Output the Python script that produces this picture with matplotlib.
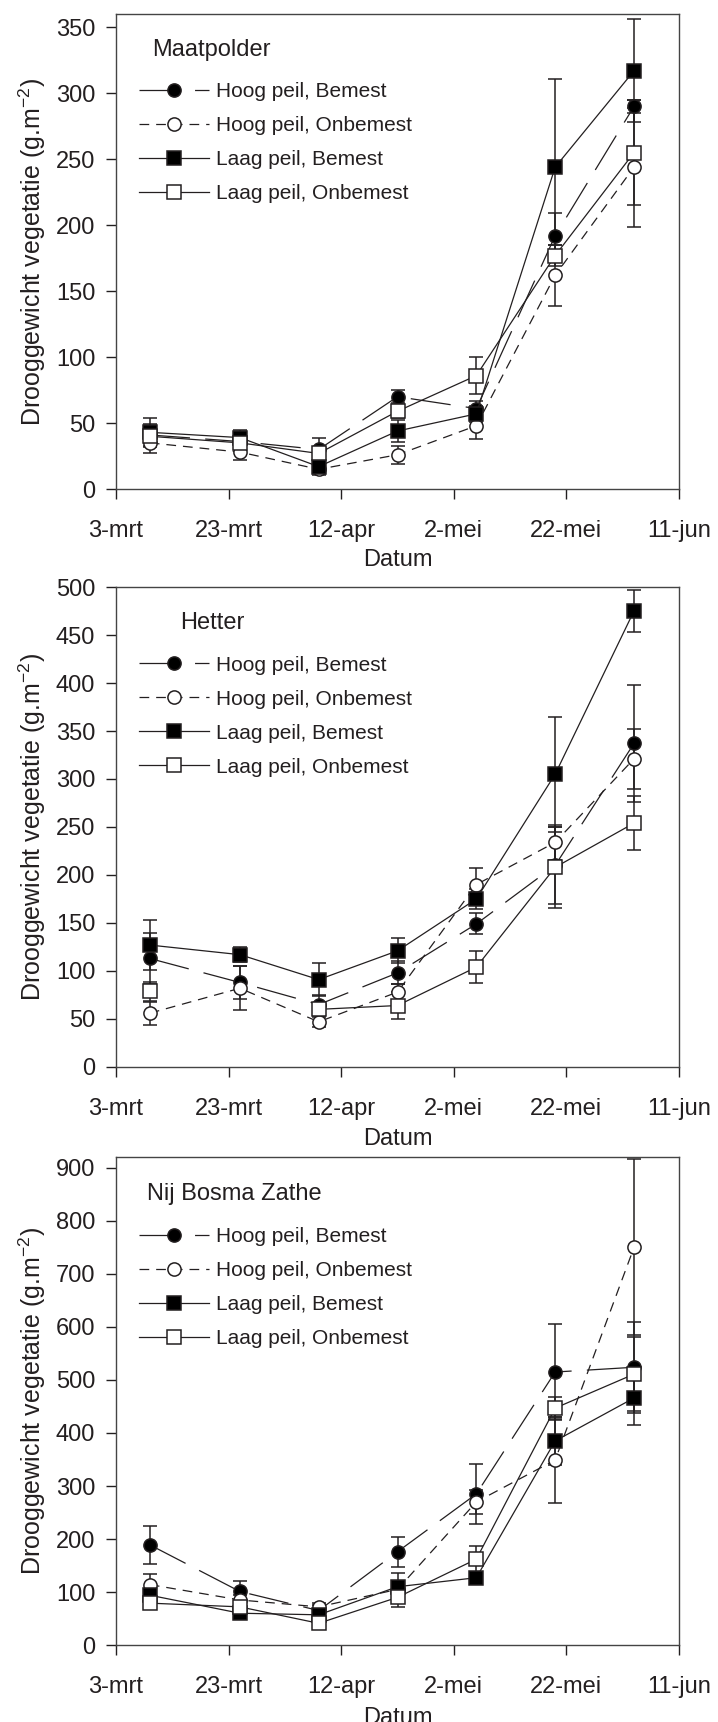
import numpy as np
import pandas as pd
import matplotlib
matplotlib.use('Agg')
import matplotlib.pyplot as plt

plt.rcParams['font.family'] = ['Liberation Sans', 'DejaVu Sans']
plt.rcParams['mathtext.default'] = 'regular'
plt.rcParams['lines.scale_dashes'] = False

# bemonsteringsdata (2010)
datums = pd.to_datetime(['2010-03-09', '2010-03-25', '2010-04-08', '2010-04-22',
                         '2010-05-06', '2010-05-20', '2010-06-03'])
tick_datums = pd.to_datetime(['2010-03-03', '2010-03-23', '2010-04-12', '2010-05-02',
                              '2010-05-22', '2010-06-11'])
tick_labels = ['3-mrt', '23-mrt', '12-apr', '2-mei', '22-mei', '11-jun']

reeksen = ['Hoog peil, Bemest', 'Hoog peil, Onbemest', 'Laag peil, Bemest', 'Laag peil, Onbemest']

# Maatpolder
maat_hb = [41, 36, 30, 70, 61, 192, 290]
maat_ho = [35, 28, 15, 26, 48, 162, 244]
maat_lb = [43, 39, 17, 44, 57, 244, 317]
maat_lo = [40, 35, 27, 59, 86, 177, 255]
maat_hb_err = [8, 4, 9, 5, 6, 17, 5]
maat_ho_err = [8, 6, 3, 7, 10, 23, 45]
maat_lb_err = [11, 6, 6, 8, 6, 67, 39]
maat_lo_err = [5, 4, 4, 5, 14, 8, 40]

# Hetter (laag peil onbemest op 25-mrt ontbreekt)
het_hb = [113, 88, 65, 98, 149, 210, 337]
het_ho = [56, 82, 47, 78, 190, 234, 321]
het_lb = [127, 117, 91, 121, 175, 305, 475]
het_lo = [79, np.nan, 60, 64, 104, 208, 254]
het_hb_err = [27, 17, 10, 12, 11, 40, 61]
het_ho_err = [12, 23, 5, 8, 17, 18, 31]
het_lb_err = [26, 8, 17, 13, 10, 60, 22]
het_lo_err = [10, np.nan, 6, 14, 17, 42, 28]

# Nij Bosma Zathe
nbz_hb = [189, 101, 65, 176, 285, 515, 524]
nbz_ho = [114, 85, 72, 105, 270, 349, 750]
nbz_lb = [94, 60, 57, 110, 127, 385, 466]
nbz_lo = [79, 72, 41, 90, 162, 447, 511]
nbz_hb_err = [36, 19, 10, 28, 57, 91, 86]
nbz_ho_err = [20, 10, 8, 10, 23, 82, 166]
nbz_lb_err = [10, 8, 8, 25, 8, 45, 51]
nbz_lo_err = [8, 8, 8, 18, 24, 20, 70]

panelen = [
    ('Maatpolder', 0.065, [maat_hb, maat_ho, maat_lb, maat_lo],
     [maat_hb_err, maat_ho_err, maat_lb_err, maat_lo_err], 360, 50),
    ('Hetter', 0.114, [het_hb, het_ho, het_lb, het_lo],
     [het_hb_err, het_ho_err, het_lb_err, het_lo_err], 500, 50),
    ('Nij Bosma Zathe', 0.055, [nbz_hb, nbz_ho, nbz_lb, nbz_lo],
     [nbz_hb_err, nbz_ho_err, nbz_lb_err, nbz_lo_err], 920, 100),
]

stijlen = [
    dict(marker='o', mfc='black', dashes=(29, 11)),
    dict(marker='o', mfc='white', dashes=(7, 5)),
    dict(marker='s', mfc='black', dashes=()),
    dict(marker='s', mfc='white', dashes=()),
]

ink = '#231f20'
axes_pos = [
    [0.1616, 0.7160, 0.7841, 0.2758],
    [0.1616, 0.3804, 0.7841, 0.2787],
    [0.1616, 0.0447, 0.7841, 0.2832],
]

fig = plt.figure(figsize=(7.18, 17.22), dpi=100)

for pos, (naam, tx, waarden, fouten, ymax, stap) in zip(axes_pos, panelen):
    ax = fig.add_axes(pos)
    for vals, errs in zip(waarden, fouten):
        ax.errorbar(datums, vals, yerr=errs, fmt='none', ecolor=ink,
                    elinewidth=1.1, capsize=5, capthick=1.1, zorder=2)
    for vals, st, lab in zip(waarden, stijlen, reeksen):
        ls = '-' if not st['dashes'] else '--'
        line, = ax.plot(datums, vals, color=ink, lw=0.9, linestyle=ls,
                        marker=st['marker'], ms=9.5, mfc=st['mfc'], mec=ink,
                        mew=1.1, label=lab, zorder=3)
        if st['dashes']:
            line.set_dashes(st['dashes'])

    ax.set_xlim(tick_datums[0], tick_datums[-1])
    ax.set_xticks(tick_datums)
    ax.set_xticklabels(tick_labels)
    ax.set_ylim(0, ymax)
    ax.set_yticks(np.arange(0, ymax + 1, stap))
    ax.tick_params(direction='out', length=7, width=1, colors=ink,
                   labelsize=17, labelcolor=ink)
    ax.tick_params(axis='y', pad=8)
    ax.tick_params(axis='x', pad=15)
    for sp in ax.spines.values():
        sp.set_color('#444444')
        sp.set_linewidth(1.0)

    ax.set_xlabel('Datum', fontsize=17, color=ink)
    ax.xaxis.set_label_coords(0.5, -0.127)
    ax.set_ylabel('Drooggewicht vegetatie (g.m$^{-2}$)', fontsize=18, color=ink)
    ax.yaxis.set_label_coords(-0.12, 0.5)

    ax.text(tx, 0.925, naam, transform=ax.transAxes, fontsize=17,
            color=ink, va='center', ha='left')
    ax.legend(loc='upper left', bbox_to_anchor=(0.04, 0.857), frameon=False,
              fontsize=15, handlelength=3.4, handletextpad=0.3,
              labelspacing=0.72, borderpad=0, borderaxespad=0,
              labelcolor=ink)

fig.savefig('out.png', dpi=100)
